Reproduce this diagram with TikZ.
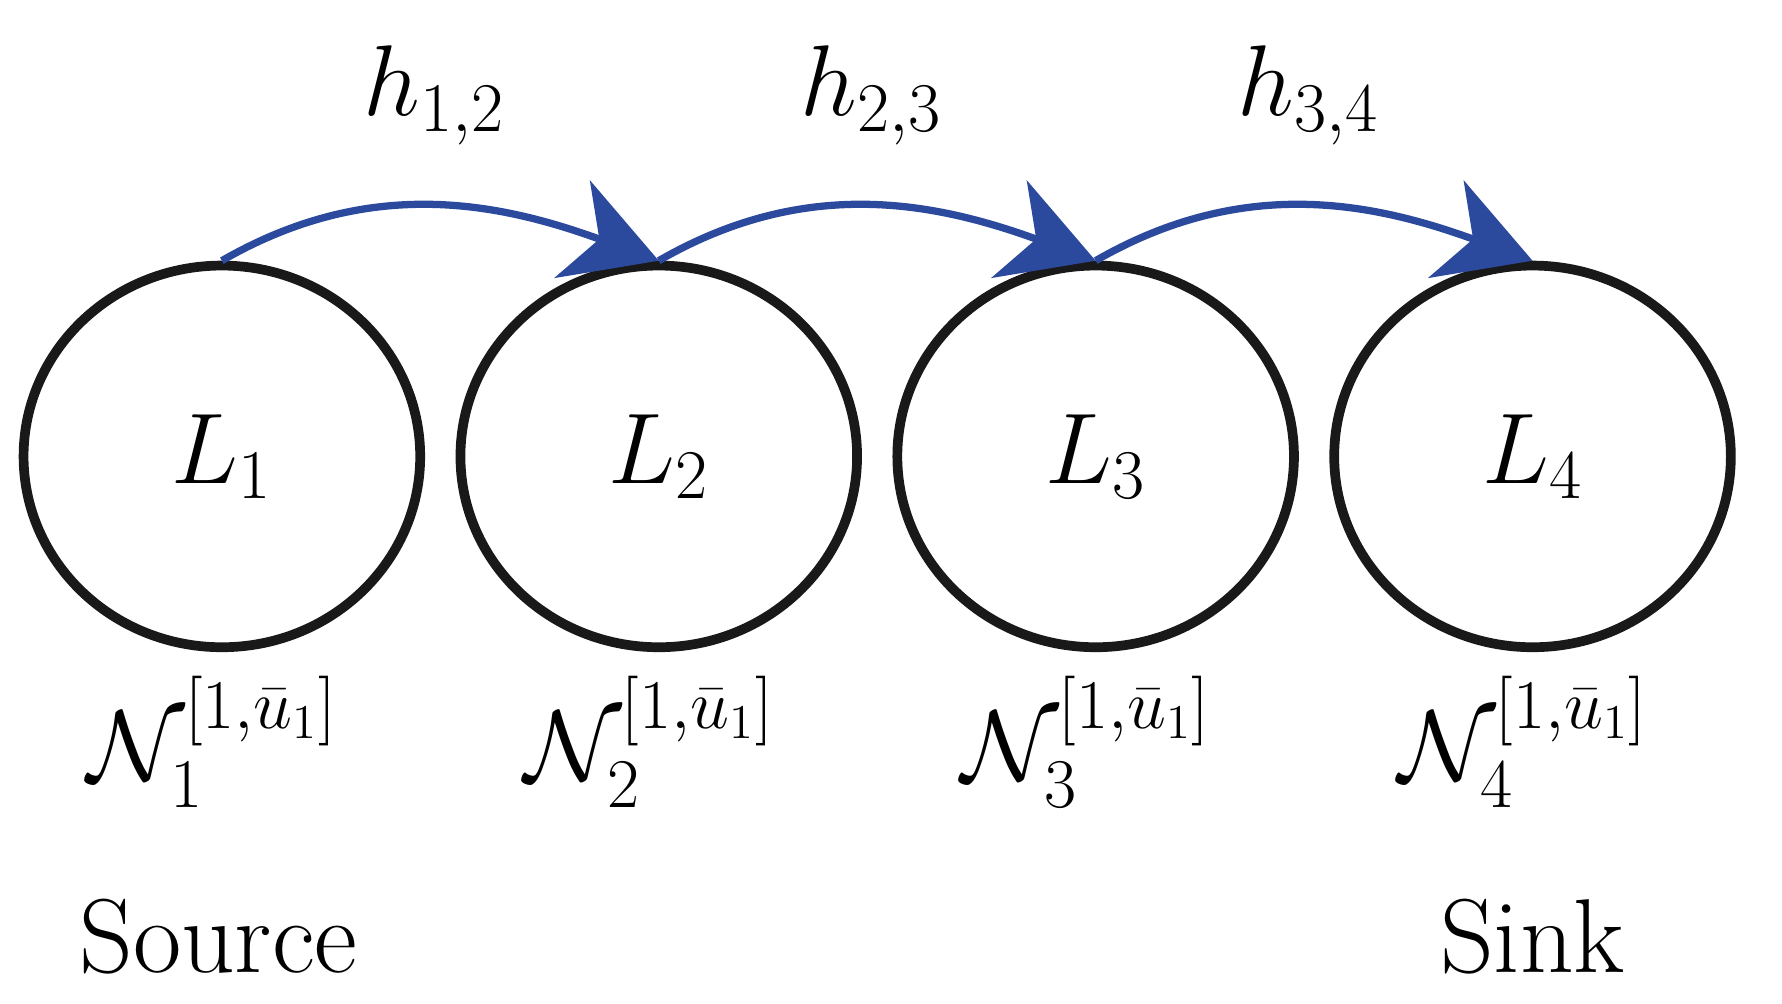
\documentclass[tikz,border=0pt]{standalone}
\usepackage{amsmath, amssymb}
\usetikzlibrary{arrows.meta, shapes.geometric}
\definecolor{hopblue}{rgb}{0.17,0.29,0.62}
\tikzset{
  loc/.style = {ellipse, draw = black!90, line width = 2.4pt, minimum width = 3.45cm, minimum height = 3.32cm, inner sep = 0pt, font = \fontsize{26}{30}\selectfont},
  hop/.style = {draw = hopblue, line width = 1.8pt, -{Stealth[length = 8mm, width = 9mm, inset = 2.5mm]}},
  lbl/.style = {font = \fontsize{26}{30}\selectfont}
}
\begin{document}
\begin{tikzpicture}
			\useasboundingbox (0,0) rectangle (15.5,8.73);
			\node[loc] (L1) at (1.93,4.76) {$L_1$};
			\node[loc] (L2) at (5.73,4.76) {$L_2$};
			\node[loc] (L3) at (9.53,4.76) {$L_3$};
			\node[loc] (L4) at (13.33,4.76) {$L_4$};

			\draw[hop] (L1.north) to[out = 30, in = 160] (L2.north);
			\draw[hop] (L2.north) to[out = 30, in = 160] (L3.north);
			\draw[hop] (L3.north) to[out = 30, in = 160] (L4.north);

			\node[lbl] (h12) at (3.78,7.90) {$h_{1,2}$};
			\node[lbl] (h23) at (7.58,7.90) {$h_{2,3}$};
			\node[lbl] (h34) at (11.38,7.90) {$h_{3,4}$};

			% neighbour sets
			\node[lbl] (N1) at (1.85,2.28) {$\mathcal{N}_1^{[1,\bar{u}_1]}$};
			\node[lbl] (N2) at (5.65,2.28) {$\mathcal{N}_2^{[1,\bar{u}_1]}$};
			\node[lbl] (N3) at (9.45,2.28) {$\mathcal{N}_3^{[1,\bar{u}_1]}$};
			\node[lbl] (N4) at (13.25,2.28) {$\mathcal{N}_4^{[1,\bar{u}_1]}$};

			\node[lbl] (src) at (1.90,0.58) {Source};
			\node[lbl] (snk) at (13.33,0.58) {Sink};
\end{tikzpicture}
\end{document}
